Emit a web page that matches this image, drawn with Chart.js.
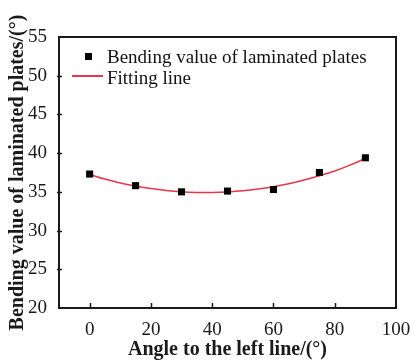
<!DOCTYPE html>
<html><head><meta charset="utf-8">
<script src="https://cdn.jsdelivr.net/npm/chart.js@4.4.1/dist/chart.umd.min.js"></script>
<style>
html,body{margin:0;padding:0;background:#fff;}
#wrap{position:relative;width:414px;height:360px;overflow:hidden;}
canvas{position:absolute;left:0;top:0;}
.lt{position:absolute;font-family:'Liberation Serif','Times New Roman',serif;font-size:19px;line-height:19px;color:#111;white-space:nowrap;}
.sq{position:absolute;background:#000;}
.ln{position:absolute;background:#e8354a;}
</style></head><body>
<div id="wrap">
<canvas id="c" width="414" height="360"></canvas>
<div class="sq" style="left:85px;top:53px;width:7px;height:7px;"></div>
<div class="lt" style="left:107px;top:47px;">Bending value of laminated plates</div>
<div class="ln" style="left:72px;top:75px;width:31px;height:2px;"></div>
<div class="lt" style="left:107px;top:68px;">Fitting line</div>
</div>
<script>
const angles = [0, 15, 30, 45, 60, 75, 90];
const bending = [37.3, 35.8, 35.0, 35.1, 35.3, 37.5, 39.4];
const fitAngles = [0, 5, 10, 15, 20, 25, 30, 35, 40, 45, 50, 55, 60, 65, 70, 75, 80, 85, 90];
const fitValues = [37.25, 36.65, 36.15, 35.75, 35.42, 35.17, 35.0, 34.92, 34.92, 34.99, 35.13, 35.36, 35.67, 36.06, 36.53, 37.08, 37.7, 38.45, 39.3];
const xTicks = [0, 20, 40, 60, 80, 100];
const yTicks = [20, 25, 30, 35, 40, 45, 50, 55];

const FONT = "'Liberation Serif','Times New Roman',serif";
const INK = '#1a1a1a';

const framePlugin = {
  id: 'frame',
  afterDraw(chart) {
    const {ctx, chartArea: a, scales: {x, y}} = chart;
    ctx.save();
    ctx.strokeStyle = INK;
    ctx.lineWidth = 2;
    ctx.strokeRect(a.left, a.top, a.right - a.left, a.bottom - a.top);
    ctx.lineWidth = 1.5;
    ctx.beginPath();
    xTicks.forEach(v => {
      const px = Math.round(x.getPixelForValue(v)) + 0.5;
      if (px > a.left + 2 && px < a.right - 2) {
        ctx.moveTo(px, a.bottom);
        ctx.lineTo(px, a.bottom - 5);
      }
    });
    yTicks.forEach(v => {
      const py = Math.round(y.getPixelForValue(v)) + 0.5;
      if (py > a.top + 2 && py < a.bottom - 2) {
        ctx.moveTo(a.left - 2, py);
        ctx.lineTo(a.left + 3, py);
      }
    });
    ctx.stroke();
    ctx.restore();
  }
};

new Chart(document.getElementById('c'), {
  type: 'scatter',
  data: {
    datasets: [
      {
        label: 'Bending value of laminated plates',
        data: angles.map((a, i) => ({x: a, y: bending[i]})),
        pointStyle: 'rect',
        pointRadius: 5,
        backgroundColor: '#000',
        borderColor: '#000',
        borderWidth: 0,
        showLine: false
      },
      {
        label: 'Fitting line',
        data: fitAngles.map((a, i) => ({x: a, y: fitValues[i]})),
        showLine: true,
        pointRadius: 0,
        borderColor: '#e8354a',
        borderWidth: 1.5,
        tension: 0.4,
        fill: false
      }
    ]
  },
  options: {
    responsive: false,
    animation: false,
    devicePixelRatio: 1,
    layout: {padding: {top: 37, right: 18, left: 0, bottom: 0}},
    plugins: {legend: {display: false}, tooltip: {enabled: false}},
    scales: {
      x: {
        type: 'linear',
        min: -10, max: 100,
        afterBuildTicks: s => { s.ticks = xTicks.map(v => ({value: v})); },
        afterFit: s => { s.height = 52; },
        grid: {display: false},
        border: {display: false},
        ticks: {color: INK, font: {family: FONT, size: 19}, padding: 3, maxRotation: 0},
        title: {display: true, text: 'Angle to the left line/(°)', color: INK,
                font: {family: FONT, size: 20, weight: 'bold', lineHeight: 1}, padding: {top: 0, bottom: 0}}
      },
      y: {
        type: 'linear',
        min: 20, max: 55,
        afterBuildTicks: s => { s.ticks = yTicks.map(v => ({value: v})); },
        afterFit: s => { s.width = 59; },
        grid: {display: false},
        border: {display: false},
        ticks: {color: INK, font: {family: FONT, size: 19}, padding: 4},
        title: {display: true, text: 'Bending value of laminated plates/(°)', color: INK,
                font: {family: FONT, size: 20, weight: 'bold', lineHeight: 1}, padding: {top: 8, bottom: 0}}
      }
    }
  },
  plugins: [framePlugin]
});
</script>
</body></html>
